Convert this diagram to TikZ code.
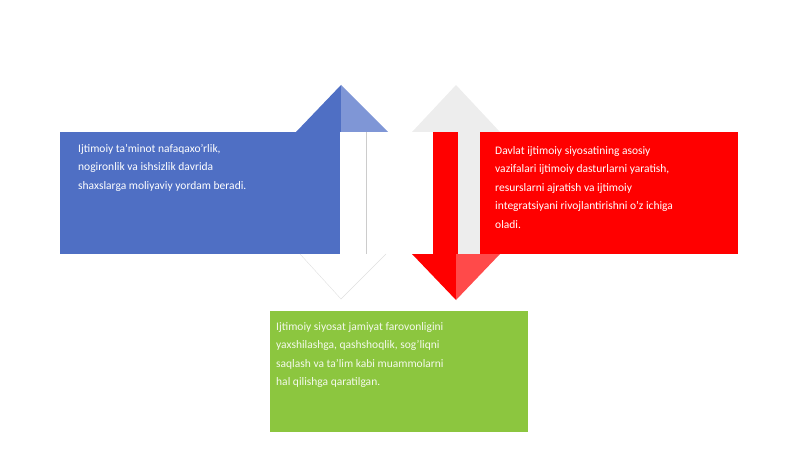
\documentclass[tikz,border=0pt]{standalone}
\usepackage{fontspec}
\setmainfont{Carlito}
\definecolor{bl}{HTML}{4F6FC4}
\definecolor{bll}{HTML}{7F96D6}
\definecolor{rd}{HTML}{FF0000}
\definecolor{rdl}{HTML}{FF4A4A}
\definecolor{gr}{HTML}{8CC63F}
\definecolor{lg}{HTML}{EDEDED}
\tikzset{txt/.style={anchor=north west,align=left,font=\fontsize{11.5}{18.5}\selectfont,inner sep=0pt}}
\begin{document}
\begin{tikzpicture}[x=1pt,y=-1pt]
\useasboundingbox (0,0) rectangle (800,449);
% blue
\fill[bl] (60,132) rectangle (340,254);
\fill[bl] (296,132) -- (341,85) -- (341,132) -- cycle;
\fill[bll] (341,85) -- (388,132) -- (341,132) -- cycle;
\draw[gray!40] (366,132) -- (366,254);
\draw[gray!25] (300,254) -- (341,299) -- (386,254);
\node[txt,text=white] (bt) at (78,144) {Ijtimoiy ta'minot nafaqaxo'rlik,\\nogironlik va ishsizlik davrida\\shaxslarga moliyaviy yordam beradi.};
% red
\fill[lg] (412,132) -- (456,85) -- (500,132) -- cycle;
\fill[lg] (458,132) rectangle (480,254);
\fill[rd] (433,132) rectangle (458,254);
\fill[rd] (480,132) rectangle (738,254);
\fill[rd] (412,254) -- (456,300) -- (456,254) -- cycle;
\fill[rdl] (456,254) -- (500,254) -- (456,300) -- cycle;
\node[txt,text=white] (rt) at (495,146) {Davlat ijtimoiy siyosatining asosiy\\vazifalari ijtimoiy dasturlarni yaratish,\\resurslarni ajratish va ijtimoiy\\integratsiyani rivojlantirishni o'z ichiga\\oladi.};
% green
\fill[gr] (270,311) rectangle (528,432);
\node[txt,text=white!90!gr] (gt) at (276,322) {Ijtimoiy siyosat jamiyat farovonligini\\yaxshilashga, qashshoqlik, sog'liqni\\saqlash va ta'lim kabi muammolarni\\hal qilishga qaratilgan.};
\end{tikzpicture}
\end{document}
